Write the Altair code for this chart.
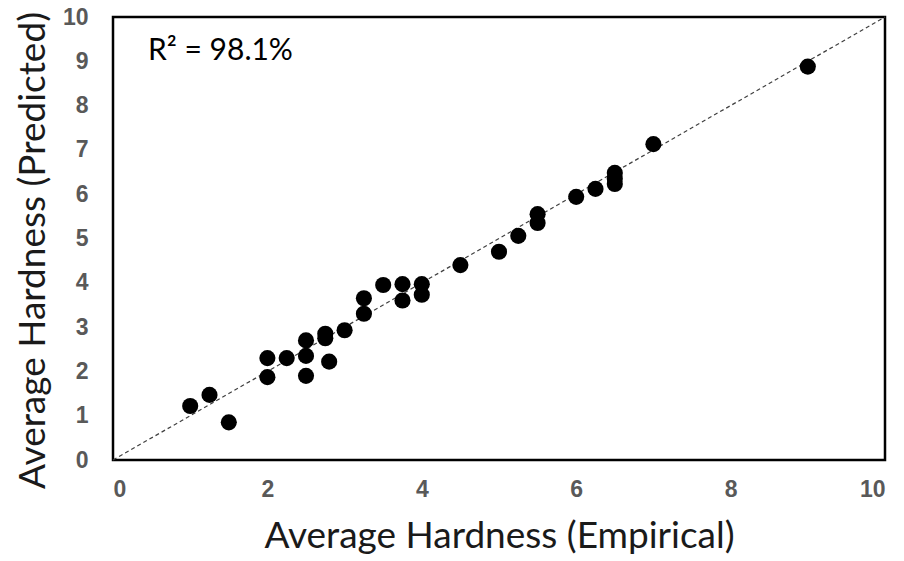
import altair as alt
import pandas as pd

empirical = [1.0, 1.25, 1.5, 2.0, 2.0, 2.25, 2.5, 2.5, 2.5, 2.75, 2.75, 2.8, 3.0,
             3.25, 3.25, 3.5, 3.75, 3.75, 4.0, 4.0, 4.5, 5.0, 5.25, 5.5, 5.5,
             6.0, 6.25, 6.5, 6.5, 6.5, 7.0, 9.0]
predicted = [1.22, 1.47, 0.85, 2.3, 1.87, 2.3, 2.7, 2.35, 1.9, 2.85, 2.75, 2.22, 2.93,
             3.65, 3.3, 3.95, 3.97, 3.6, 3.97, 3.73, 4.4, 4.7, 5.06, 5.55, 5.35,
             5.94, 6.12, 6.48, 6.35, 6.23, 7.13, 8.88]
line_x = [0, 10]
line_y = [0, 10]
annotation = "R² = 98.1%"

df = pd.DataFrame({"emp": empirical, "pred": predicted})
ldf = pd.DataFrame({"x": line_x, "y": line_y})

FONT = "Lato"
xscale = alt.Scale(domain=[0, 10], nice=False)
yscale = alt.Scale(domain=[0, 10], nice=False)

xaxis = alt.Axis(title="Average Hardness (Empirical)", values=[0, 2, 4, 6, 8, 10],
                 format="d", grid=False, domain=False, ticks=False,
                 labelFont="Liberation Sans", labelFontWeight="bold", labelFontSize=23,
                 labelColor="#595959", labelPadding=18, titleFont=FONT, titleFontSize=37,
                 titleFontWeight="normal", titleColor="#1a1a1a", titlePadding=17)
yaxis = alt.Axis(title="Average Hardness (Predicted)", values=list(range(0, 11)),
                 format="d", grid=False, domain=False, ticks=False,
                 labelFont="Liberation Sans", labelFontWeight="bold", labelFontSize=23,
                 labelColor="#595959", labelPadding=25, titleFont=FONT, titleFontSize=37,
                 titleFontWeight="normal", titleColor="#1a1a1a", titlePadding=10,
                 titleY=233)

line = alt.Chart(ldf).mark_line(color="#404040", strokeDash=[4, 3], strokeWidth=1.2).encode(
    x=alt.X("x:Q", scale=xscale, axis=xaxis),
    y=alt.Y("y:Q", scale=yscale, axis=yaxis),
)

pts = alt.Chart(df).mark_circle(color="black", opacity=1, size=260).encode(
    x=alt.X("emp:Q", scale=xscale),
    y=alt.Y("pred:Q", scale=yscale),
)

txt = alt.Chart(pd.DataFrame({"t": [annotation]})).mark_text(
    align="left", baseline="middle", font=FONT, fontSize=30, color="black"
).encode(text="t:N", x=alt.value(35), y=alt.value(34))

chart = alt.layer(line, pts, txt).properties(
    width=772, height=443,
    autosize=alt.AutoSizeParams(type="none"),
    padding={"left": 113, "top": 17, "right": 19, "bottom": 101},
    background="white",
).configure_view(stroke="black", strokeWidth=2.5)

chart.save("out.html", embed_options={"renderer": "svg", "actions": False})
